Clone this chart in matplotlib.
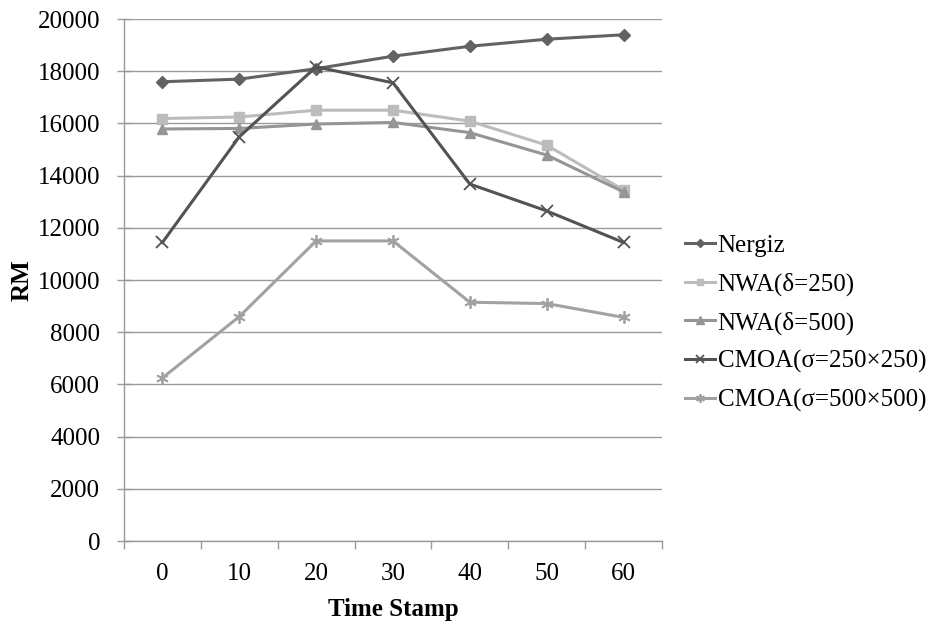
import matplotlib.pyplot as plt
from matplotlib.ticker import FixedLocator, NullFormatter

# Data
time_stamps = ['0', '10', '20', '30', '40', '50', '60']
nergiz = [17600, 17700, 18100, 18580, 18960, 19230, 19400]
nwa_250 = [16190, 16250, 16510, 16510, 16090, 15170, 13450]
nwa_500 = [15790, 15810, 15980, 16040, 15650, 14790, 13380]
cmoa_250 = [11440, 15490, 18170, 17560, 13680, 12650, 11440]
cmoa_500 = [6250, 8600, 11500, 11500, 9150, 9100, 8570]

series = [
    ('Nergiz', nergiz, '#626262', 'D', 6),
    ('NWA(δ=250)', nwa_250, '#bcbcbc', 's', 7),
    ('NWA(δ=500)', nwa_500, '#959595', '^', 7.5),
    ('CMOA(σ=250×250)', cmoa_250, '#535353', 'x', 8),
    ('CMOA(σ=500×500)', cmoa_500, '#a2a2a2', (6, 2, 0), 9),
]

plt.rcParams['font.family'] = ['Liberation Serif', 'DejaVu Serif']

fig = plt.figure(figsize=(9.35, 6.25), dpi=100)
ax = fig.add_axes([0.1326, 0.1344, 0.5754, 0.835])

x = list(range(len(time_stamps)))
for label, vals, color, marker, ms in series:
    ax.plot(x, vals, color=color, linewidth=2.2, marker=marker, markersize=ms,
            markeredgewidth=1.3 if marker in ('x', (6, 2, 0)) else 1,
            markeredgecolor=color, markerfacecolor=color, label=label,
            clip_on=False)

# Axes
ax.set_xlim(-0.5, len(time_stamps) - 0.5)
ax.set_ylim(0, 20000)
ax.set_yticks(range(0, 20001, 2000))
ax.yaxis.grid(True, color='#9a9a9a', linewidth=1)
ax.set_axisbelow(True)

ax.set_xticks(x)
ax.set_xticklabels(time_stamps)
ax.xaxis.set_minor_locator(FixedLocator([i - 0.5 for i in range(len(time_stamps) + 1)]))
ax.xaxis.set_minor_formatter(NullFormatter())
ax.tick_params(axis='x', which='major', length=0, pad=16, labelsize=18)
ax.tick_params(axis='x', which='minor', length=6, color='#9a9a9a', width=1)
ax.tick_params(axis='y', direction='inout', length=10, color='#9a9a9a', width=1,
               pad=12, labelsize=18)

for side in ('top', 'right'):
    ax.spines[side].set_visible(False)
for side in ('left', 'bottom'):
    ax.spines[side].set_color('#9a9a9a')
    ax.spines[side].set_linewidth(1)

ax.set_xlabel('Time Stamp', fontsize=18, fontweight='bold', labelpad=9)
ax.set_ylabel('RM', fontsize=18, fontweight='bold', labelpad=3)

# Legend
ax.legend(loc='center left', bbox_to_anchor=(1.043, 0.4176), frameon=False,
          fontsize=18, handlelength=1.2, handletextpad=0.1, labelspacing=0.62,
          borderaxespad=0, borderpad=0, markerscale=0.7)

fig.savefig('out.png', dpi=100)
